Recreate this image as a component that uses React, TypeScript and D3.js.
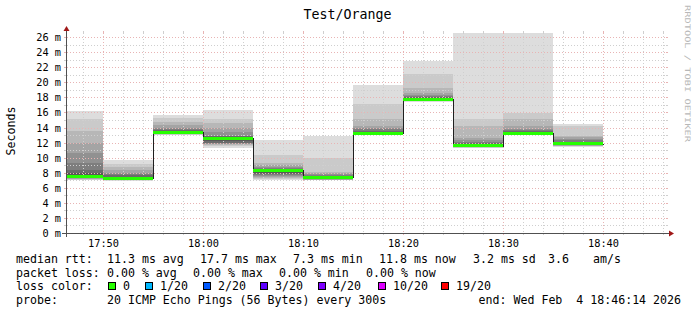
import React from "react";
import * as d3 from "d3";

// ---------- data ----------
const title = "Test/Orange";
const yLabel = "Seconds";
const watermark = "RRDTOOL / TOBI OETIKER";
const graphStart = new Date(2026, 1, 4, 17, 46, 14);
const graphEnd = new Date(2026, 1, 4, 18, 46, 14);
const stepSeconds = 300;
const stepEnds = ["17:50", "17:55", "18:00", "18:05", "18:10", "18:15", "18:20", "18:25", "18:30", "18:35", "18:40"];
const medianMs = [7.45, 7.3, 13.35, 12.6, 8.35, 7.42, 13.25, 17.77, 11.6, 13.25, 11.87];
// 20 sorted ping RTTs (ms) per step
const pingsMs: number[][] = [
  [7.0, 7.1, 7.15, 7.2, 7.25, 7.3, 7.35, 7.4, 7.42, 7.45, 7.5, 7.7, 8.0, 8.4, 9.3, 10.6, 12.0, 13.6, 15.1, 16.2],
  [6.95, 7.0, 7.05, 7.1, 7.15, 7.2, 7.22, 7.25, 7.28, 7.3, 7.32, 7.4, 7.5, 7.65, 7.8, 8.0, 8.3, 8.7, 9.2, 9.75],
  [13.0, 13.05, 13.1, 13.15, 13.2, 13.22, 13.25, 13.28, 13.3, 13.33, 13.38, 13.45, 13.55, 13.7, 13.85, 14.0, 14.3, 14.7, 15.3, 15.7],
  [11.3, 11.5, 11.7, 11.75, 11.8, 11.9, 12.0, 12.15, 12.3, 12.5, 12.7, 12.75, 12.8, 12.85, 12.9, 13.4, 14.0, 14.6, 15.1, 16.3],
  [7.0, 7.2, 7.35, 7.5, 7.6, 7.7, 7.85, 8.0, 8.15, 8.3, 8.4, 8.45, 8.5, 8.55, 8.6, 8.8, 9.0, 9.3, 10.4, 12.3],
  [6.97, 7.02, 7.07, 7.1, 7.15, 7.2, 7.25, 7.3, 7.35, 7.4, 7.45, 7.5, 7.55, 7.6, 7.7, 7.8, 7.9, 8.05, 10.0, 12.85],
  [12.97, 13.0, 13.05, 13.08, 13.1, 13.13, 13.16, 13.19, 13.21, 13.23, 13.27, 13.35, 13.45, 13.6, 13.75, 13.9, 14.2, 15.07, 17.07, 19.6],
  [17.45, 17.5, 17.53, 17.56, 17.6, 17.63, 17.66, 17.69, 17.72, 17.75, 17.8, 17.85, 17.9, 18.0, 18.15, 18.35, 18.6, 19.2, 21.1, 22.85],
  [11.3, 11.35, 11.4, 11.45, 11.48, 11.5, 11.53, 11.56, 11.58, 11.6, 11.65, 11.7, 11.8, 11.9, 12.1, 12.35, 12.6, 14.2, 15.07, 26.55],
  [13.05, 13.08, 13.1, 13.12, 13.15, 13.17, 13.19, 13.21, 13.23, 13.25, 13.28, 13.33, 13.4, 13.5, 13.65, 13.85, 14.2, 15.07, 15.96, 26.5],
  [11.42, 11.5, 11.55, 11.6, 11.65, 11.7, 11.74, 11.78, 11.82, 11.86, 11.9, 11.95, 12.0, 12.1, 12.3, 12.5, 12.7, 12.85, 14.2, 14.53],
];
const yMaxMs = 26.55;
const yTickMs = [0, 2, 4, 6, 8, 10, 12, 14, 16, 18, 20, 22, 24, 26];
const lossLabels = ["0", "1/20", "2/20", "3/20", "4/20", "10/20", "19/20"];
const lossColors = ["#26ff00", "#00b8ff", "#0059ff", "#5e00ff", "#7e00ff", "#dd00ff", "#ff0000"];
const rttStats = ["11.3 ms avg", "17.7 ms max", "7.3 ms min", "11.8 ms now", "3.2 ms sd", "3.6", "am/s"];
const lossStats = ["0.00 % avg", "0.00 % max", "0.00 % min", "0.00 % now"];
const probeText = "20 ICMP Echo Pings (56 Bytes) every 300s";
const endText = "end: Wed Feb  4 18:46:14 2026";

// ---------- layout ----------
const W = 697;
const H = 315;
const X0 = 66;
const X1 = 666;
const Y0 = 233;
const Y1 = 33;
const MONO = "'DejaVu Sans Mono', monospace";

const toDate = (hm: string) => {
  const [h, m] = hm.split(":").map(Number);
  return new Date(2026, 1, 4, h, m, 0);
};
const keepSpaces = (s: string) => s.replace(/ /g, "\u00a0");

function smokeColor(ibot: number, count: number) {
  const half = count / 2;
  const c = Math.floor((190 / half) * (half - ibot)) + 50;
  const hx = c.toString(16).padStart(2, "0");
  return "#" + hx + hx + hx;
}

export default function App() {
  const x = d3.scaleTime().domain([graphStart, graphEnd]).range([X0, X1]);
  const y = d3.scaleLinear().domain([0, yMaxMs]).range([Y0, Y1]);
  const px = (d: Date) => Math.max(X0, Math.floor(x(d)));

  const segs = stepEnds.map((s, i) => {
    const t1 = toDate(s);
    const t0 = new Date(t1.getTime() - stepSeconds * 1000);
    return { x0: px(t0), x1: px(t1), pings: pingsMs[i], med: medianMs[i] };
  });

  // grid
  const minorV = d3.timeMinute.every(2)!.range(graphStart, graphEnd).filter((d) => d.getMinutes() % 10 !== 0);
  const majorV = d3.timeMinute.every(10)!.range(graphStart, graphEnd);
  const minorH = d3.range(1, 27, 2);
  const gy = (v: number) => Math.round(y(v)) + 0.5;
  const gx = (d: Date) => Math.floor(x(d)) + 0.5;
  const minorCol = "#cfcfcf";
  const majorCol = "#e8b4b4";
  const dash = "1,2";

  // median step line
  const medPts: [number, number][] = [];
  segs.forEach((s) => {
    medPts.push([s.x0, y(s.med)]);
    medPts.push([s.x1, y(s.med)]);
  });
  const medLine = d3.line().x((d) => Math.floor(d[0]) + 0.5).y((d) => Math.round(d[1]) + 0.5)(medPts) || "";

  const legendX = [107, 200, 293, 379, 473, 548, 593];
  const lossX = [107, 193, 279, 366];
  const boxX = [108, 145, 203, 260, 318, 378, 441];
  const base = [263, 276.5, 290, 303.5];
  const fsL = 11.6;

  return (
    <svg width={W} height={H} style={{ position: "absolute", left: 0, top: 0 }} fontFamily={MONO}>
      <rect x={0} y={0} width={W} height={H} fill="#ffffff" />
      {/* smoke */}
      <g shapeRendering="crispEdges">
        {segs.map((s, i) =>
          d3.range(0, 10).map((ib) => {
            const lo = s.pings[ib];
            const hi = s.pings[19 - ib];
            const yt = Math.round(y(hi));
            const yb = Math.round(y(lo));
            return (
              <rect key={i + "-" + ib} x={s.x0} y={yt} width={s.x1 - s.x0} height={Math.max(1, yb - yt)} fill={smokeColor(ib + 1, 20)} />
            );
          })
        )}
      </g>
      {/* grid */}
      <g shapeRendering="crispEdges">
        {minorH.map((v) => (
          <g key={"mh" + v}>
            <line x1={X0 - 2} x2={X1 + 2} y1={gy(v)} y2={gy(v)} stroke={minorCol} strokeDasharray={dash} />
            <line x1={X0 - 2} x2={X0} y1={gy(v)} y2={gy(v)} stroke={minorCol} />
            <line x1={X1} x2={X1 + 2} y1={gy(v)} y2={gy(v)} stroke={minorCol} />
          </g>
        ))}
        {minorV.map((d) => (
          <g key={"mv" + d.getTime()}>
            <line x1={gx(d)} x2={gx(d)} y1={Y0 + 2} y2={Y1 - 2} stroke={minorCol} strokeDasharray={dash} />
            <line x1={gx(d)} x2={gx(d)} y1={Y0} y2={Y0 + 2} stroke={minorCol} />
            <line x1={gx(d)} x2={gx(d)} y1={Y1 - 2} y2={Y1} stroke={minorCol} />
          </g>
        ))}
        {yTickMs.filter((v) => v > 0).map((v) => (
          <g key={"MH" + v}>
            <line x1={X0 - 2} x2={X1 + 2} y1={gy(v)} y2={gy(v)} stroke={majorCol} strokeDasharray={dash} />
            <line x1={X0 - 2} x2={X0} y1={gy(v)} y2={gy(v)} stroke={majorCol} />
            <line x1={X1} x2={X1 + 2} y1={gy(v)} y2={gy(v)} stroke={majorCol} />
          </g>
        ))}
        {majorV.map((d) => (
          <g key={"MV" + d.getTime()}>
            <line x1={gx(d)} x2={gx(d)} y1={Y0 + 2} y2={Y1 - 2} stroke={majorCol} strokeDasharray={dash} />
            <line x1={gx(d)} x2={gx(d)} y1={Y0} y2={Y0 + 2} stroke={majorCol} />
            <line x1={gx(d)} x2={gx(d)} y1={Y1 - 2} y2={Y1} stroke={majorCol} />
          </g>
        ))}
      </g>
      {/* median */}
      <path d={medLine} fill="none" stroke="#202020" strokeWidth={1} shapeRendering="crispEdges" />
      {segs.map((s, i) => (
        <line key={"g" + i} x1={s.x0} x2={s.x1} y1={y(s.med)} y2={y(s.med)} stroke={lossColors[0]} strokeWidth={3} shapeRendering="crispEdges" />
      ))}
      {/* axes */}
      <g shapeRendering="crispEdges">
        <line x1={X0 + 0.5} x2={X0 + 0.5} y1={Y0 + 4} y2={Y1 - 4} stroke="#505050" />
        <line x1={X0 - 4} x2={X1 + 4} y1={Y0 + 0.5} y2={Y0 + 0.5} stroke="#505050" />
      </g>
      <path d={`M${X0 + 0.5},${Y1 - 7} L${X0 - 2.5},${Y1 - 2} L${X0 + 3.5},${Y1 - 2} Z`} fill="#a01818" />
      <path d={`M${X1 + 8},${Y0 + 0.5} L${X1 + 3},${Y0 - 2.5} L${X1 + 3},${Y0 + 3.5} Z`} fill="#a01818" />
      {/* y labels */}
      {yTickMs.map((v) => (
        <text key={"yl" + v} x={61} y={gy(v)} dy="0.36em" textAnchor="end" fontSize={10.3} fill="#000">
          {keepSpaces(v + " m")}
        </text>
      ))}
      {/* x labels */}
      {majorV.map((d) => (
        <text key={"xl" + d.getTime()} x={gx(d)} y={246.5} textAnchor="middle" fontSize={10.3} fill="#000">
          {d3.timeFormat("%H:%M")(d)}
        </text>
      ))}
      <text x={347.5} y={18.5} textAnchor="middle" fontSize={13.3} fill="#000">{title}</text>
      <text transform="translate(15,131) rotate(-90)" textAnchor="middle" fontSize={11.6} fill="#000">{yLabel}</text>
      <text transform="translate(685,5) rotate(90)" fontSize={7.5} fill="#b8b8b8" textLength={137} lengthAdjust="spacingAndGlyphs">{watermark}</text>
      {/* legend */}
      <g fontSize={fsL} fill="#000">
        <text x={16} y={base[0]}>{keepSpaces("median rtt:")}</text>
        {rttStats.map((t, i) => (
          <text key={"r" + i} x={legendX[i]} y={base[0]}>{keepSpaces(t)}</text>
        ))}
        <text x={16} y={base[1]}>{keepSpaces("packet loss:")}</text>
        {lossStats.map((t, i) => (
          <text key={"l" + i} x={lossX[i]} y={base[1]}>{keepSpaces(t)}</text>
        ))}
        <text x={16} y={base[2]}>{keepSpaces("loss color:")}</text>
        {lossLabels.map((t, i) => (
          <g key={"b" + i}>
            <rect x={boxX[i] + 0.5} y={282.5} width={7} height={7} fill={lossColors[i]} stroke="#000" shapeRendering="crispEdges" />
            <text x={boxX[i] + 15} y={base[2]}>{t}</text>
          </g>
        ))}
        <text x={16} y={base[3]}>{keepSpaces("probe:")}</text>
        <text x={107} y={base[3]}>{keepSpaces(probeText)}</text>
        <text x={681} y={base[3]} textAnchor="end">{keepSpaces(endText)}</text>
      </g>
    </svg>
  );
}
